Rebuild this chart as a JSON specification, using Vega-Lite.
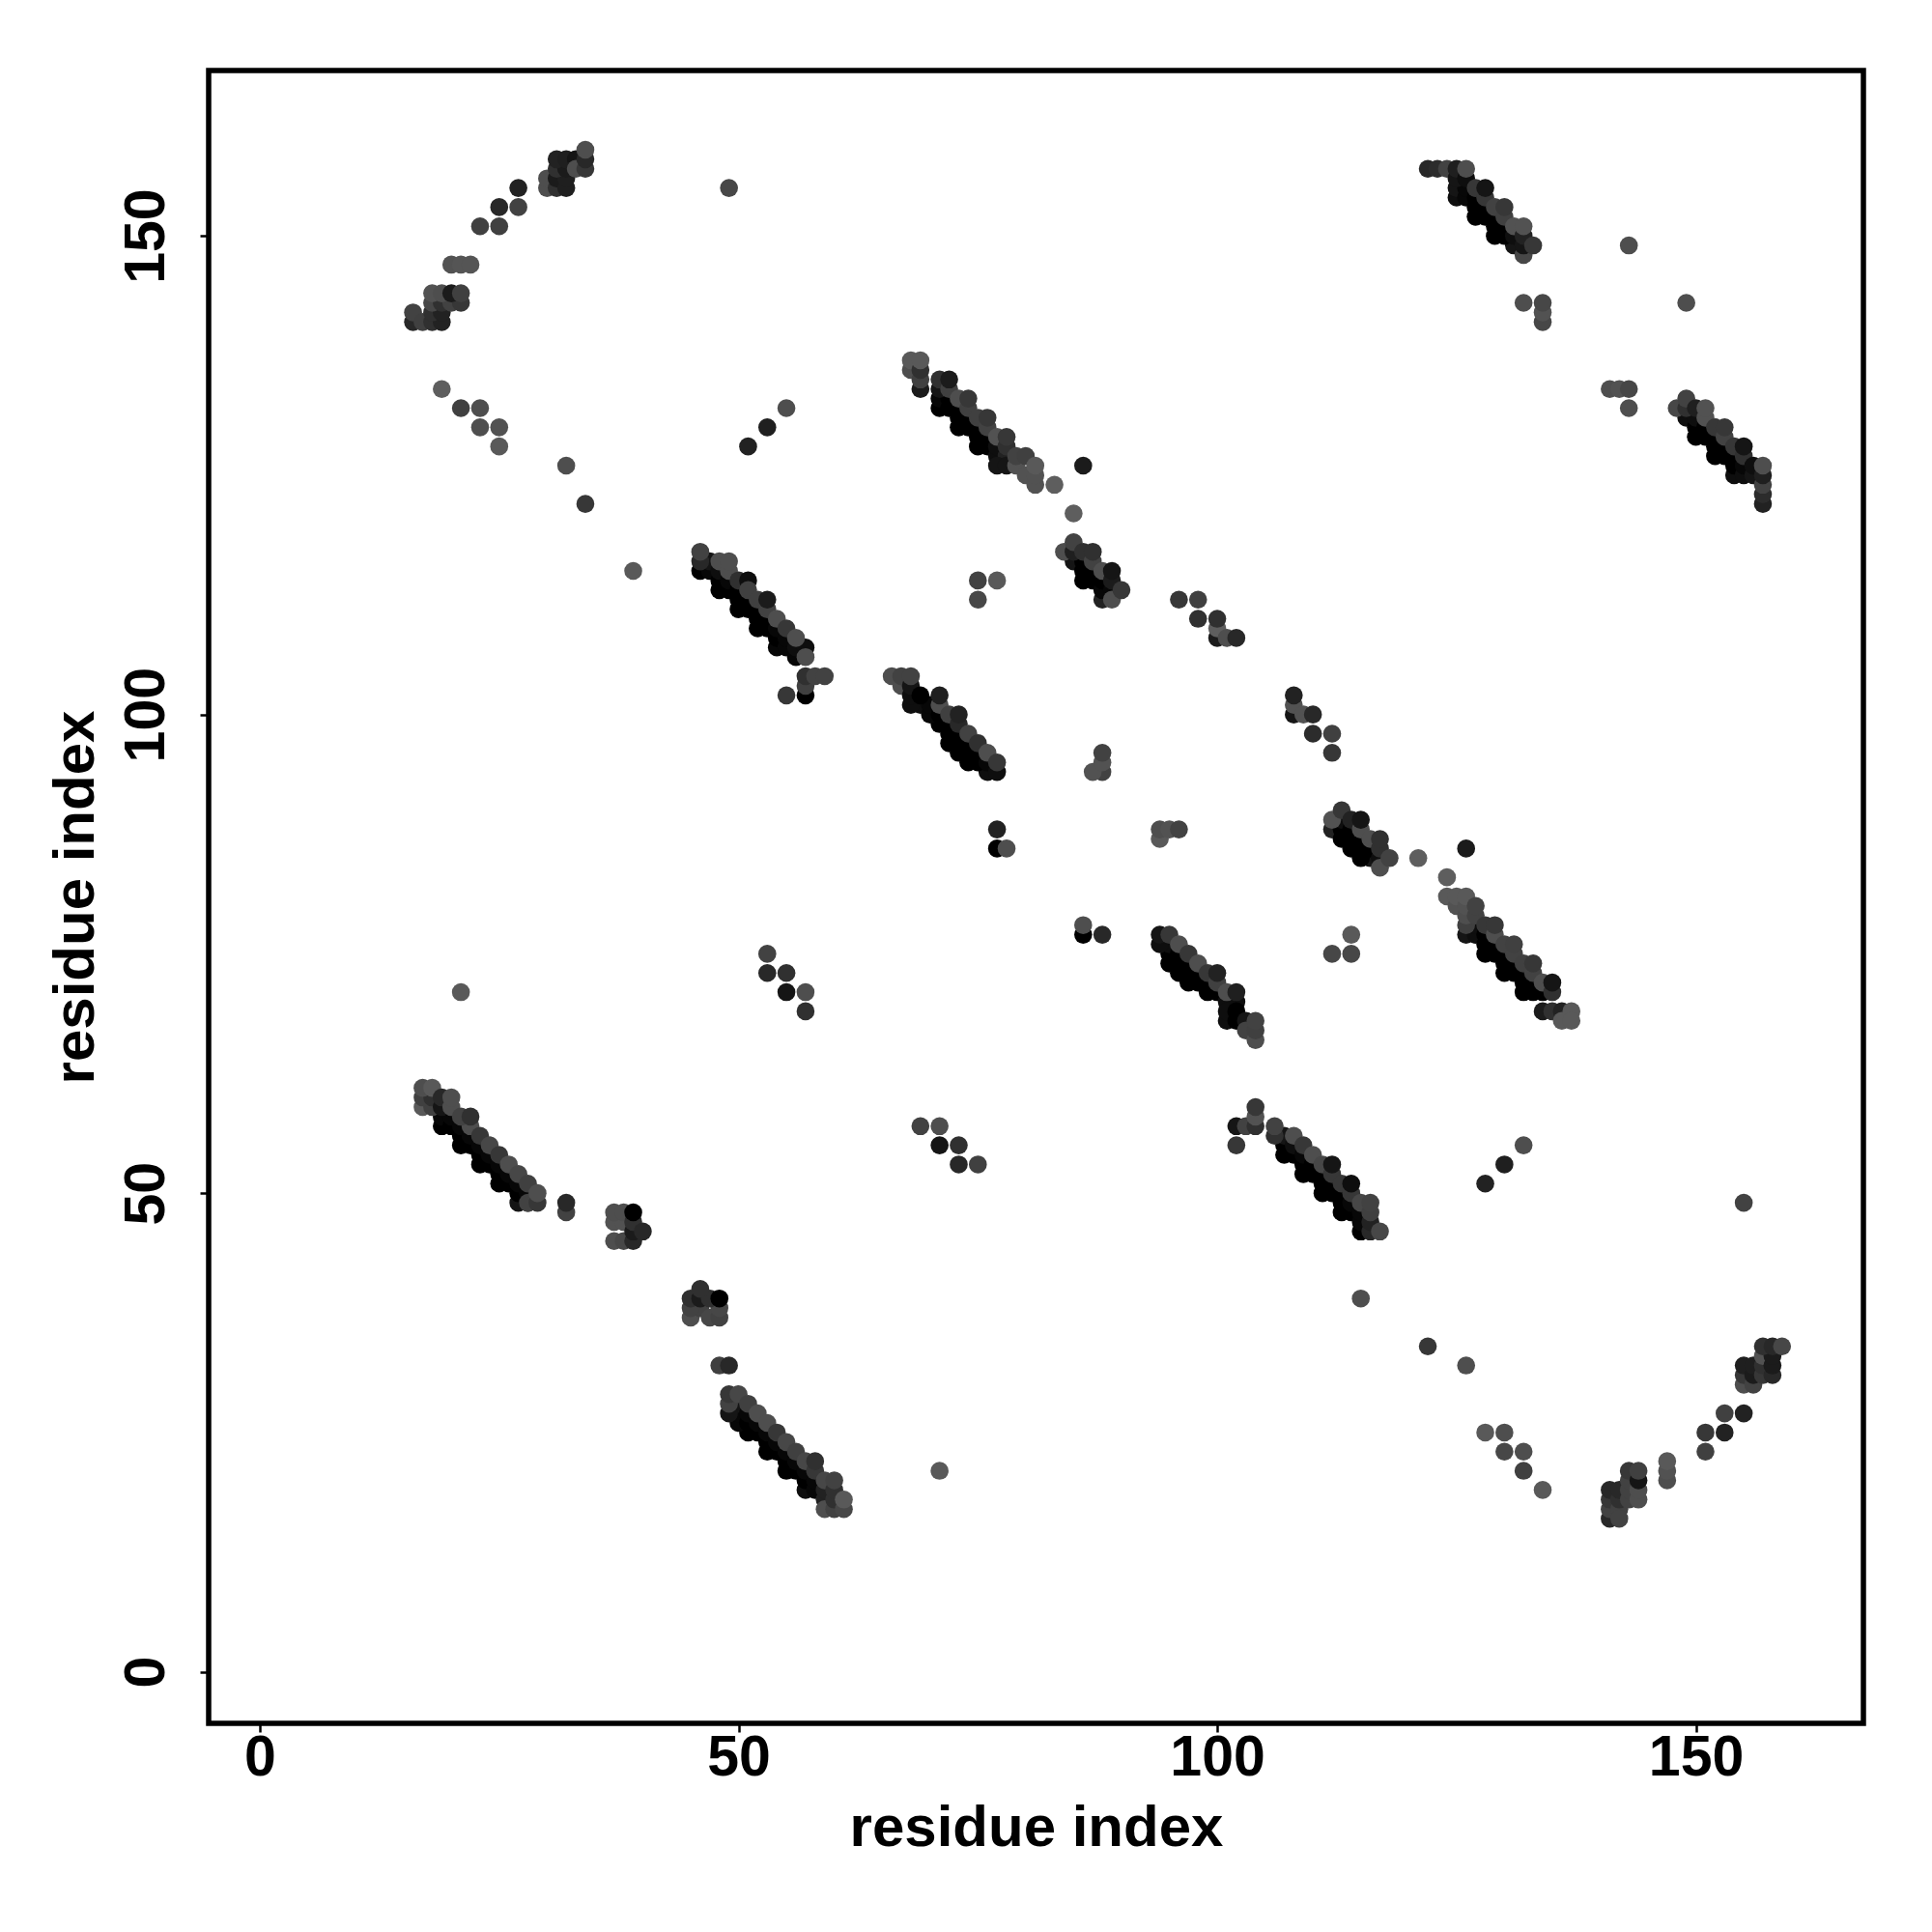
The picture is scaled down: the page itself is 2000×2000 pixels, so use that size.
{"$schema":"https://vega.github.io/schema/vega-lite/v6.json","width":1713,"height":1711,"autosize":{"type":"none"},"padding":{"left":216,"top":73,"right":71,"bottom":216},"background":"white","view":{"stroke":"black","strokeWidth":5.5},"config":{"view":{"stroke":"black","strokeWidth":5.5},"font":"Liberation Sans"},
"data":{"values":[
{"i":19,"j":57,"s":0},{"i":21,"j":55,"s":0},{"i":23,"j":53,"s":0},{"i":25,"j":51,"s":0},{"i":27,"j":49,"s":7},{"i":19,"j":58,"s":2},{"i":20,"j":57,"s":0},{"i":21,"j":56,"s":0},{"i":22,"j":55,"s":0},{"i":23,"j":54,"s":0},{"i":24,"j":53,"s":0},{"i":25,"j":52,"s":0},{"i":26,"j":51,"s":0},{"i":27,"j":50,"s":0},{"i":28,"j":49,"s":4},{"i":20,"j":58,"s":2},{"i":21,"j":57,"s":2},{"i":22,"j":56,"s":2},{"i":23,"j":55,"s":2},{"i":24,"j":54,"s":2},{"i":25,"j":53,"s":2},{"i":26,"j":52,"s":2},{"i":27,"j":51,"s":2},{"i":28,"j":50,"s":2},
{"i":51,"j":25,"s":0},{"i":53,"j":23,"s":0},{"i":55,"j":21,"s":0},{"i":57,"j":19,"s":4},{"i":50,"j":26,"s":2},{"i":50,"j":27,"s":2},{"i":51,"j":26,"s":0},{"i":52,"j":25,"s":0},{"i":53,"j":24,"s":0},{"i":54,"j":23,"s":0},{"i":55,"j":22,"s":0},{"i":56,"j":21,"s":0},{"i":57,"j":20,"s":0},{"i":58,"j":19,"s":2},{"i":50,"j":28,"s":7},{"i":51,"j":27,"s":2},{"i":52,"j":26,"s":2},{"i":53,"j":25,"s":2},{"i":54,"j":24,"s":2},{"i":55,"j":23,"s":2},{"i":56,"j":22,"s":2},{"i":57,"j":21,"s":2},{"i":58,"j":20,"s":2},
{"i":46,"j":115,"s":0},{"i":48,"j":113,"s":0},{"i":50,"j":111,"s":0},{"i":52,"j":109,"s":0},{"i":54,"j":107,"s":2},{"i":56,"j":106,"s":2},{"i":47,"j":115,"s":2},{"i":48,"j":114,"s":0},{"i":49,"j":113,"s":0},{"i":50,"j":112,"s":0},{"i":51,"j":111,"s":0},{"i":52,"j":110,"s":0},{"i":53,"j":109,"s":0},{"i":54,"j":108,"s":0},{"i":55,"j":107,"s":2},{"i":47,"j":116,"s":7},{"i":48,"j":115,"s":4},{"i":49,"j":114,"s":2},{"i":50,"j":113,"s":0},{"i":51,"j":112,"s":0},{"i":52,"j":111,"s":0},{"i":53,"j":110,"s":0},{"i":54,"j":109,"s":2},{"i":55,"j":108,"s":2},{"i":56,"j":107,"s":4},{"i":57,"j":107,"s":4},
{"i":107,"j":54,"s":0},{"i":109,"j":52,"s":0},{"i":111,"j":50,"s":0},{"i":113,"j":48,"s":0},{"i":115,"j":46,"s":0},{"i":107,"j":55,"s":0},{"i":108,"j":54,"s":0},{"i":109,"j":53,"s":0},{"i":110,"j":52,"s":0},{"i":111,"j":51,"s":0},{"i":112,"j":50,"s":0},{"i":113,"j":49,"s":0},{"i":114,"j":48,"s":0},{"i":115,"j":47,"s":2},{"i":116,"j":46,"s":16},{"i":107,"j":56,"s":7},{"i":108,"j":55,"s":4},{"i":109,"j":54,"s":2},{"i":110,"j":53,"s":0},{"i":111,"j":52,"s":0},{"i":112,"j":51,"s":0},{"i":113,"j":50,"s":0},{"i":114,"j":49,"s":2},{"i":115,"j":48,"s":2},{"i":116,"j":47,"s":13},
{"i":69,"j":101,"s":4},{"i":71,"j":99,"s":0},{"i":72,"j":97,"s":0},{"i":74,"j":95,"s":0},{"i":76,"j":94,"s":4},{"i":73,"j":96,"s":0},{"i":70,"j":100,"s":2},{"i":72,"j":98,"s":0},{"i":73,"j":97,"s":0},{"i":74,"j":96,"s":0},{"i":75,"j":95,"s":0},{"i":70,"j":101,"s":2},{"i":71,"j":100,"s":0},{"i":72,"j":99,"s":0},{"i":73,"j":98,"s":0},{"i":74,"j":97,"s":0},{"i":75,"j":96,"s":0},{"i":76,"j":95,"s":2},
{"i":95,"j":74,"s":0},{"i":97,"j":72,"s":0},{"i":99,"j":71,"s":0},{"i":96,"j":73,"s":0},{"i":95,"j":75,"s":0},{"i":96,"j":74,"s":0},{"i":97,"j":73,"s":0},{"i":98,"j":72,"s":0},{"i":95,"j":76,"s":4},{"i":96,"j":75,"s":0},{"i":97,"j":74,"s":0},{"i":98,"j":73,"s":0},{"i":99,"j":72,"s":0},{"i":100,"j":71,"s":0},{"i":101,"j":70,"s":4},{"i":102,"j":70,"s":4},
{"i":71,"j":132,"s":0},{"i":73,"j":130,"s":0},{"i":75,"j":128,"s":0},{"i":71,"j":133,"s":2},{"i":72,"j":132,"s":0},{"i":73,"j":131,"s":0},{"i":74,"j":130,"s":0},{"i":75,"j":129,"s":0},{"i":76,"j":128,"s":0},{"i":77,"j":127,"s":4},{"i":72,"j":133,"s":0},{"i":73,"j":132,"s":0},{"i":74,"j":131,"s":0},{"i":75,"j":130,"s":0},{"i":76,"j":129,"s":0},{"i":77,"j":128,"s":4},{"i":78,"j":127,"s":13},
{"i":126,"j":77,"s":7},{"i":128,"j":75,"s":0},{"i":130,"j":73,"s":0},{"i":132,"j":71,"s":0},{"i":127,"j":77,"s":4},{"i":128,"j":76,"s":0},{"i":129,"j":75,"s":0},{"i":130,"j":74,"s":0},{"i":131,"j":73,"s":0},{"i":132,"j":72,"s":0},{"i":133,"j":71,"s":0},{"i":127,"j":78,"s":4},{"i":128,"j":77,"s":0},{"i":129,"j":76,"s":0},{"i":130,"j":75,"s":0},{"i":131,"j":74,"s":0},{"i":132,"j":73,"s":0},{"i":133,"j":72,"s":0},{"i":134,"j":71,"s":0},
{"i":86,"j":114,"s":0},{"i":88,"j":112,"s":13},{"i":85,"j":116,"s":7},{"i":86,"j":115,"s":0},{"i":87,"j":114,"s":0},{"i":88,"j":113,"s":2},{"i":86,"j":116,"s":0},{"i":87,"j":115,"s":0},{"i":88,"j":114,"s":0},{"i":89,"j":113,"s":2},
{"i":112,"j":88,"s":13},{"i":114,"j":86,"s":0},{"i":116,"j":85,"s":7},{"i":113,"j":87,"s":0},{"i":115,"j":85,"s":0},{"i":113,"j":88,"s":0},{"i":114,"j":87,"s":0},{"i":115,"j":86,"s":0},{"i":113,"j":89,"s":4},{"i":114,"j":88,"s":0},{"i":115,"j":87,"s":0},{"i":116,"j":86,"s":0},{"i":117,"j":85,"s":4},
{"i":125,"j":154,"s":4},{"i":127,"j":152,"s":0},{"i":129,"j":150,"s":0},{"i":131,"j":149,"s":7},{"i":125,"j":155,"s":7},{"i":126,"j":154,"s":2},{"i":127,"j":153,"s":0},{"i":128,"j":152,"s":0},{"i":129,"j":151,"s":0},{"i":130,"j":150,"s":0},{"i":126,"j":155,"s":2},{"i":127,"j":154,"s":0},{"i":128,"j":153,"s":0},{"i":129,"j":152,"s":0},{"i":130,"j":151,"s":0},{"i":131,"j":150,"s":4},
{"i":150,"j":129,"s":0},{"i":152,"j":127,"s":0},{"i":154,"j":125,"s":4},{"i":149,"j":131,"s":4},{"i":150,"j":130,"s":0},{"i":151,"j":129,"s":0},{"i":152,"j":128,"s":0},{"i":153,"j":127,"s":0},{"i":154,"j":126,"s":0},{"i":155,"j":125,"s":4},{"i":150,"j":131,"s":4},{"i":151,"j":130,"s":0},{"i":152,"j":129,"s":0},{"i":153,"j":128,"s":0},{"i":154,"j":127,"s":0},{"i":155,"j":126,"s":2},{"i":156,"j":125,"s":7},
{"i":17,"j":59,"s":38},{"i":18,"j":59,"s":27},{"i":17,"j":60,"s":27},{"i":18,"j":60,"s":20},{"i":17,"j":61,"s":33},{"i":18,"j":61,"s":38},{"i":19,"j":59,"s":7},{"i":19,"j":60,"s":16},{"i":20,"j":59,"s":33},{"i":20,"j":60,"s":33},{"i":22,"j":57,"s":33},{"i":21,"j":58,"s":28},{"i":22,"j":58,"s":20},{"i":23,"j":56,"s":23},{"i":24,"j":55,"s":30},{"i":25,"j":54,"s":23},{"i":26,"j":53,"s":33},{"i":27,"j":52,"s":30},{"i":28,"j":51,"s":27},{"i":28,"j":49,"s":28},{"i":29,"j":49,"s":23},{"i":29,"j":50,"s":33},
{"i":49,"j":27,"s":7},{"i":49,"j":28,"s":28},{"i":49,"j":29,"s":23},{"i":50,"j":29,"s":30},{"i":51,"j":28,"s":27},{"i":52,"j":27,"s":33},{"i":53,"j":26,"s":33},{"i":54,"j":25,"s":23},{"i":55,"j":24,"s":30},{"i":56,"j":23,"s":27},{"i":57,"j":22,"s":30},{"i":58,"j":21,"s":23},{"i":58,"j":22,"s":20},{"i":59,"j":18,"s":13},{"i":59,"j":19,"s":13},{"i":59,"j":20,"s":30},{"i":59,"j":17,"s":33},{"i":60,"j":17,"s":28},{"i":60,"j":18,"s":20},{"i":60,"j":19,"s":20},{"i":60,"j":20,"s":28},{"i":61,"j":17,"s":30},{"i":61,"j":18,"s":38},
{"i":46,"j":116,"s":16},{"i":46,"j":117,"s":28},{"i":48,"j":116,"s":33},{"i":49,"j":115,"s":33},{"i":49,"j":116,"s":33},{"i":50,"j":114,"s":20},{"i":51,"j":114,"s":4},{"i":51,"j":113,"s":27},{"i":52,"j":112,"s":27},{"i":53,"j":111,"s":28},{"i":53,"j":112,"s":10},{"i":54,"j":110,"s":33},{"i":55,"j":109,"s":23},{"i":56,"j":108,"s":33},{"i":57,"j":106,"s":33},{"i":57,"j":102,"s":0},{"i":57,"j":103,"s":27},{"i":57,"j":104,"s":20},{"i":58,"j":104,"s":28},{"i":59,"j":104,"s":28},{"i":55,"j":102,"s":23},
{"i":106,"j":56,"s":20},{"i":106,"j":57,"s":28},{"i":108,"j":56,"s":33},{"i":109,"j":55,"s":23},{"i":110,"j":54,"s":33},{"i":111,"j":53,"s":30},{"i":112,"j":52,"s":23},{"i":112,"j":53,"s":7},{"i":113,"j":51,"s":23},{"i":114,"j":50,"s":23},{"i":114,"j":51,"s":4},{"i":115,"j":49,"s":30},{"i":116,"j":48,"s":27},{"i":116,"j":49,"s":28},{"i":117,"j":46,"s":30},{"i":102,"j":55,"s":23},{"i":102,"j":57,"s":7},{"i":103,"j":57,"s":28},{"i":104,"j":57,"s":20},{"i":104,"j":58,"s":35},{"i":104,"j":59,"s":23},
{"i":66,"j":104,"s":33},{"i":67,"j":103,"s":33},{"i":67,"j":104,"s":28},{"i":68,"j":101,"s":4},{"i":68,"j":102,"s":4},{"i":68,"j":103,"s":7},{"i":68,"j":104,"s":28},{"i":69,"j":102,"s":0},{"i":71,"j":101,"s":33},{"i":71,"j":102,"s":12},{"i":72,"j":100,"s":27},{"i":73,"j":99,"s":16},{"i":73,"j":100,"s":13},{"i":74,"j":98,"s":28},{"i":75,"j":97,"s":20},{"i":76,"j":96,"s":33},{"i":77,"j":94,"s":4},{"i":77,"j":95,"s":23},
{"i":94,"j":76,"s":4},{"i":94,"j":77,"s":7},{"i":95,"j":77,"s":23},{"i":96,"j":76,"s":33},{"i":97,"j":75,"s":23},{"i":98,"j":74,"s":33},{"i":99,"j":73,"s":23},{"i":100,"j":72,"s":27},{"i":100,"j":73,"s":13},{"i":101,"j":71,"s":33},{"i":102,"j":71,"s":12},{"i":101,"j":68,"s":4},{"i":101,"j":69,"s":4},{"i":102,"j":68,"s":0},{"i":102,"j":69,"s":0},{"i":103,"j":68,"s":7},{"i":103,"j":67,"s":28},{"i":104,"j":66,"s":33},{"i":104,"j":67,"s":27},{"i":104,"j":68,"s":28},
{"i":68,"j":136,"s":33},{"i":68,"j":137,"s":38},{"i":69,"j":134,"s":10},{"i":69,"j":135,"s":27},{"i":69,"j":136,"s":20},{"i":69,"j":137,"s":38},{"i":71,"j":134,"s":7},{"i":71,"j":135,"s":20},{"i":72,"j":134,"s":27},{"i":72,"j":135,"s":10},{"i":73,"j":133,"s":33},{"i":74,"j":132,"s":27},{"i":74,"j":133,"s":23},{"i":75,"j":131,"s":27},{"i":76,"j":130,"s":28},{"i":76,"j":131,"s":23},{"i":77,"j":126,"s":7},{"i":78,"j":126,"s":7},{"i":77,"j":129,"s":35},{"i":78,"j":128,"s":20},{"i":78,"j":129,"s":23},{"i":79,"j":126,"s":35},{"i":79,"j":127,"s":28},{"i":80,"j":127,"s":27},{"i":80,"j":125,"s":35},{"i":81,"j":124,"s":35},{"i":81,"j":125,"s":35},{"i":81,"j":126,"s":38},{"i":83,"j":124,"s":40},
{"i":124,"j":81,"s":38},{"i":125,"j":80,"s":35},{"i":125,"j":81,"s":38},{"i":126,"j":78,"s":27},{"i":126,"j":79,"s":33},{"i":126,"j":80,"s":35},{"i":126,"j":81,"s":38},{"i":127,"j":79,"s":28},{"i":127,"j":80,"s":28},{"i":128,"j":78,"s":23},{"i":129,"j":77,"s":33},{"i":129,"j":78,"s":23},{"i":130,"j":76,"s":28},{"i":131,"j":75,"s":28},{"i":131,"j":76,"s":27},{"i":132,"j":74,"s":27},{"i":133,"j":73,"s":28},{"i":133,"j":74,"s":23},{"i":134,"j":72,"s":33},{"i":135,"j":71,"s":20},{"i":135,"j":72,"s":7},{"i":134,"j":69,"s":10},{"i":135,"j":69,"s":20},{"i":136,"j":69,"s":13},{"i":136,"j":68,"s":38},{"i":137,"j":69,"s":38},{"i":137,"j":68,"s":38},
{"i":84,"j":117,"s":33},{"i":85,"j":117,"s":12},{"i":85,"j":118,"s":28},{"i":86,"j":117,"s":20},{"i":87,"j":116,"s":28},{"i":87,"j":117,"s":20},{"i":88,"j":115,"s":33},{"i":89,"j":114,"s":10},{"i":89,"j":115,"s":7},{"i":89,"j":112,"s":33},{"i":90,"j":113,"s":23},{"i":85,"j":121,"s":40},
{"i":112,"j":89,"s":35},{"i":113,"j":90,"s":23},{"i":114,"j":89,"s":13},{"i":115,"j":88,"s":33},{"i":115,"j":89,"s":7},{"i":116,"j":87,"s":33},{"i":117,"j":86,"s":20},{"i":117,"j":87,"s":20},{"i":117,"j":84,"s":33},{"i":118,"j":85,"s":28},{"i":121,"j":85,"s":40},{"i":124,"j":83,"s":40},{"i":126,"j":86,"s":10},{"i":86,"j":126,"s":10},
{"i":122,"j":157,"s":16},{"i":123,"j":157,"s":18},{"i":124,"j":157,"s":28},{"i":125,"j":156,"s":7},{"i":125,"j":157,"s":12},{"i":126,"j":156,"s":4},{"i":126,"j":157,"s":33},{"i":127,"j":155,"s":23},{"i":128,"j":154,"s":23},{"i":128,"j":155,"s":7},{"i":129,"j":153,"s":28},{"i":130,"j":152,"s":27},{"i":130,"j":153,"s":23},{"i":132,"j":148,"s":30},{"i":131,"j":151,"s":35},{"i":132,"j":149,"s":7},{"i":132,"j":150,"s":13},{"i":132,"j":151,"s":35},{"i":133,"j":149,"s":23},
{"i":148,"j":132,"s":30},{"i":149,"j":132,"s":20},{"i":149,"j":133,"s":28},{"i":150,"j":132,"s":12},{"i":151,"j":131,"s":35},{"i":151,"j":132,"s":35},{"i":152,"j":130,"s":23},{"i":153,"j":129,"s":28},{"i":153,"j":130,"s":23},{"i":154,"j":128,"s":23},{"i":155,"j":127,"s":20},{"i":155,"j":128,"s":7},{"i":156,"j":126,"s":4},{"i":157,"j":122,"s":13},{"i":157,"j":123,"s":18},{"i":157,"j":124,"s":28},{"i":157,"j":125,"s":12},{"i":157,"j":126,"s":33},
{"i":16,"j":141,"s":16},{"i":16,"j":142,"s":28},{"i":17,"j":141,"s":27},{"i":18,"j":141,"s":20},{"i":19,"j":141,"s":13},{"i":18,"j":142,"s":20},{"i":19,"j":142,"s":13},{"i":18,"j":143,"s":30},{"i":19,"j":143,"s":20},{"i":20,"j":143,"s":28},{"i":21,"j":143,"s":23},{"i":18,"j":144,"s":35},{"i":19,"j":144,"s":33},{"i":20,"j":144,"s":10},{"i":21,"j":144,"s":27},{"i":20,"j":147,"s":35},{"i":21,"j":147,"s":36},{"i":22,"j":147,"s":36},{"i":23,"j":151,"s":27},{"i":25,"j":151,"s":27},{"i":25,"j":153,"s":16},{"i":27,"j":153,"s":28},{"i":27,"j":155,"s":13},
{"i":30,"j":155,"s":33},{"i":30,"j":156,"s":33},{"i":31,"j":155,"s":20},{"i":31,"j":156,"s":10},{"i":32,"j":155,"s":12},{"i":32,"j":156,"s":12},{"i":31,"j":157,"s":20},{"i":32,"j":157,"s":10},{"i":31,"j":158,"s":13},{"i":32,"j":158,"s":12},{"i":33,"j":158,"s":7},{"i":33,"j":157,"s":33},{"i":34,"j":157,"s":23},{"i":34,"j":158,"s":16},{"i":34,"j":159,"s":33},
{"i":49,"j":155,"s":30},{"i":19,"j":134,"s":40},{"i":21,"j":132,"s":27},{"i":23,"j":132,"s":33},{"i":23,"j":130,"s":33},{"i":25,"j":130,"s":35},{"i":25,"j":128,"s":38},{"i":32,"j":126,"s":33},{"i":34,"j":122,"s":23},{"i":39,"j":115,"s":38},{"i":55,"j":132,"s":33},{"i":53,"j":130,"s":12},{"i":51,"j":128,"s":13},{"i":75,"j":114,"s":28},{"i":77,"j":114,"s":38},{"i":75,"j":112,"s":30},{"i":88,"j":94,"s":28},{"i":87,"j":94,"s":35},{"i":88,"j":95,"s":35},{"i":88,"j":96,"s":28},{"i":77,"j":88,"s":13},{"i":77,"j":86,"s":0},{"i":78,"j":86,"s":33},{"i":86,"j":77,"s":0},{"i":86,"j":78,"s":33},{"i":88,"j":77,"s":16},{"i":53,"j":75,"s":28},{"i":53,"j":73,"s":16},{"i":55,"j":73,"s":20},{"i":55,"j":71,"s":7},{"i":57,"j":71,"s":33},{"i":57,"j":69,"s":20},{"i":21,"j":71,"s":38},{"i":69,"j":57,"s":28},{"i":71,"j":57,"s":33},{"i":71,"j":55,"s":7},{"i":73,"j":55,"s":20},{"i":73,"j":53,"s":16},{"i":75,"j":53,"s":27},{"i":71,"j":21,"s":38},
{"i":96,"j":112,"s":23},{"i":98,"j":112,"s":27},{"i":98,"j":110,"s":20},{"i":100,"j":108,"s":10},{"i":100,"j":109,"s":40},{"i":100,"j":110,"s":20},{"i":101,"j":108,"s":33},{"i":102,"j":108,"s":16},{"i":108,"j":100,"s":7},{"i":108,"j":101,"s":35},{"i":108,"j":102,"s":13},{"i":109,"j":100,"s":35},{"i":110,"j":100,"s":16},{"i":110,"j":98,"s":18},{"i":112,"j":98,"s":27},{"i":112,"j":96,"s":23},{"i":94,"j":87,"s":38},{"i":94,"j":88,"s":33},{"i":95,"j":88,"s":35},{"i":96,"j":88,"s":28},{"i":114,"j":77,"s":38},{"i":112,"j":75,"s":30},{"i":114,"j":75,"s":30},
{"i":132,"j":143,"s":33},{"i":134,"j":141,"s":30},{"i":134,"j":142,"s":35},{"i":134,"j":143,"s":30},{"i":143,"j":149,"s":33},{"i":149,"j":143,"s":33},{"i":141,"j":134,"s":33},{"i":142,"j":134,"s":35},{"i":143,"j":134,"s":30},{"i":143,"j":132,"s":33},
{"i":32,"j":48,"s":28},{"i":32,"j":49,"s":16},{"i":37,"j":45,"s":33},{"i":38,"j":45,"s":30},{"i":39,"j":45,"s":16},{"i":37,"j":47,"s":35},{"i":38,"j":47,"s":35},{"i":37,"j":48,"s":33},{"i":38,"j":48,"s":33},{"i":39,"j":46,"s":10},{"i":39,"j":47,"s":20},{"i":40,"j":46,"s":16},{"i":39,"j":48,"s":0},
{"i":45,"j":37,"s":33},{"i":46,"j":38,"s":28},{"i":45,"j":38,"s":28},{"i":47,"j":37,"s":30},{"i":48,"j":37,"s":28},{"i":48,"j":38,"s":30},{"i":45,"j":39,"s":20},{"i":46,"j":39,"s":10},{"i":47,"j":39,"s":20},{"i":46,"j":40,"s":20},{"i":48,"j":39,"s":0},{"i":48,"j":32,"s":27},{"i":49,"j":32,"s":16},
{"i":115,"j":39,"s":33},{"i":122,"j":34,"s":23},{"i":126,"j":32,"s":33},{"i":128,"j":51,"s":13},{"i":130,"j":53,"s":12},{"i":132,"j":55,"s":33},{"i":155,"j":49,"s":28},{"i":128,"j":25,"s":38},{"i":130,"j":25,"s":33},{"i":130,"j":23,"s":30},{"i":132,"j":23,"s":33},{"i":132,"j":21,"s":27},{"i":134,"j":19,"s":38},
{"i":141,"j":16,"s":16},{"i":141,"j":17,"s":28},{"i":141,"j":18,"s":23},{"i":141,"j":19,"s":16},{"i":142,"j":17,"s":28},{"i":142,"j":18,"s":20},{"i":142,"j":19,"s":16},{"i":142,"j":16,"s":28},{"i":143,"j":18,"s":28},{"i":143,"j":19,"s":28},{"i":143,"j":20,"s":28},{"i":143,"j":21,"s":23},{"i":144,"j":18,"s":33},{"i":144,"j":19,"s":33},{"i":144,"j":20,"s":7},{"i":144,"j":21,"s":27},{"i":147,"j":20,"s":33},{"i":147,"j":21,"s":35},{"i":147,"j":22,"s":38},{"i":151,"j":23,"s":27},{"i":151,"j":25,"s":23},{"i":153,"j":25,"s":13},{"i":153,"j":27,"s":27},{"i":155,"j":27,"s":13},
{"i":155,"j":30,"s":33},{"i":155,"j":31,"s":23},{"i":155,"j":32,"s":12},{"i":156,"j":30,"s":28},{"i":156,"j":31,"s":10},{"i":156,"j":32,"s":12},{"i":157,"j":31,"s":23},{"i":157,"j":32,"s":20},{"i":157,"j":33,"s":35},{"i":158,"j":31,"s":16},{"i":158,"j":32,"s":10},{"i":158,"j":33,"s":10},{"i":157,"j":34,"s":20},{"i":158,"j":34,"s":16},{"i":159,"j":34,"s":30}
]},
"mark":{"type":"circle","size":346,"opacity":1},
"encoding":{
"x":{"field":"i","type":"quantitative","scale":{"domain":[-5.35,167.5],"nice":false,"zero":false},"axis":{"title":"residue index","values":[0,50,100,150],"format":"d","grid":false,"domain":false,"ticks":true,"tickSize":9,"tickWidth":2.5,"tickColor":"black","labelFont":"Liberation Sans","labelFontWeight":"bold","labelFontSize":59,"labelColor":"black","labelPadding":-3,"titleFont":"Liberation Sans","titleFontWeight":"bold","titleFontSize":60,"titleColor":"black","titlePadding":14}},
"y":{"field":"j","type":"quantitative","scale":{"domain":[-5.38,167.27],"nice":false,"zero":false},"axis":{"title":"residue index","values":[0,50,100,150],"format":"d","grid":false,"domain":false,"ticks":true,"tickSize":9,"tickWidth":2.5,"tickColor":"black","labelFont":"Liberation Sans","labelFontWeight":"bold","labelFontSize":59,"labelColor":"black","labelAngle":-90,"labelAlign":"center","labelBaseline":"bottom","labelPadding":26,"titleFont":"Liberation Sans","titleFontWeight":"bold","titleFontSize":60,"titleColor":"black","titlePadding":13}},
"color":{"field":"s","type":"quantitative","legend":null,"scale":{"domain":[0,100],"range":["#000000","#ffffff"]}}
}}
